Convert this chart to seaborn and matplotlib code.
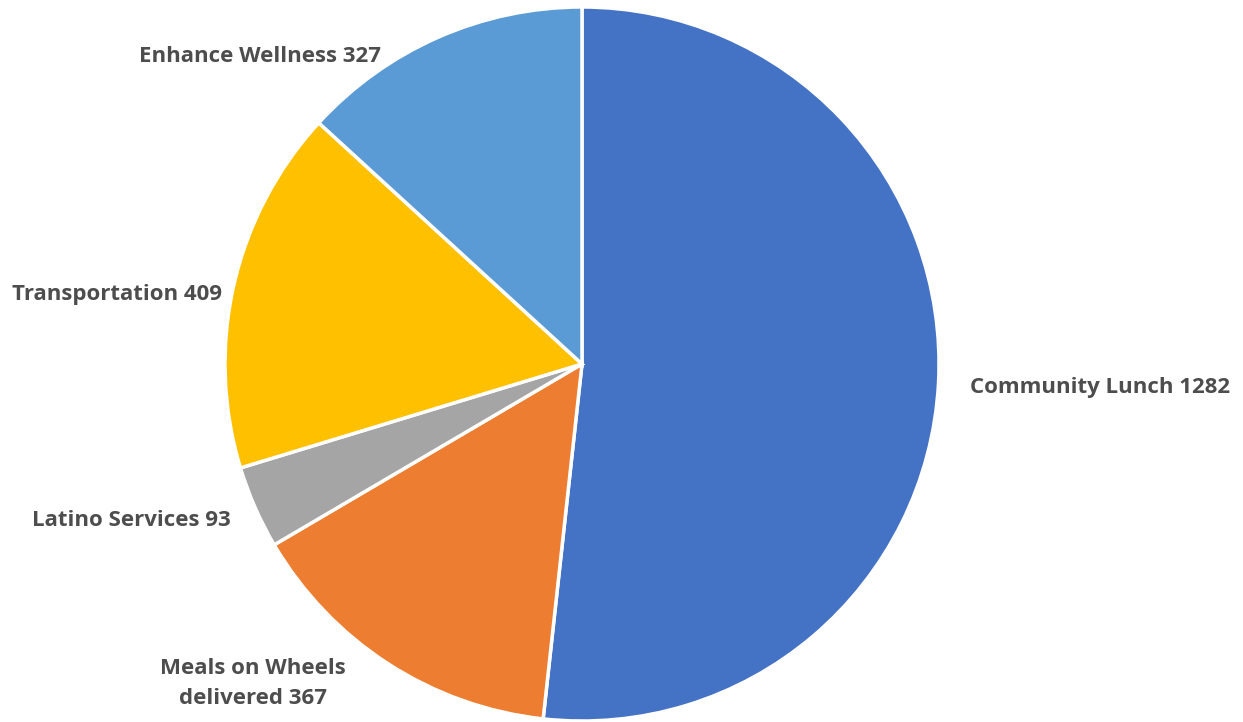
import numpy as np
import seaborn as sns
import matplotlib.pyplot as plt

# data
programs = ['Community Lunch', 'Meals on Wheels\ndelivered', 'Latino Services', 'Transportation', 'Enhance Wellness']
counts = [1282, 367, 93, 409, 327]
colors = sns.color_palette(['#4472C4', '#ED7D31', '#A5A5A5', '#FFC000', '#5B9BD5'])

sns.set_style('white')
plt.rcParams['font.family'] = ['Open Sans', 'DejaVu Sans']

fig = plt.figure(figsize=(12.43, 7.22), dpi=100)
W, H = 1243, 722
cx, cy, r = 582, 364, 357
ax = fig.add_axes([(cx - r) / W, (H - cy - r) / H, 2 * r / W, 2 * r / H])

labels = [f'{p} {c}' for p, c in zip(programs, counts)]
wedges, texts = ax.pie(counts, labels=labels, colors=colors, startangle=90, counterclock=False,
                       radius=1, wedgeprops=dict(edgecolor='white', linewidth=2.5),
                       textprops=dict(fontsize=16, fontweight='bold', color='#4d4d4d'))

# label placement (like Excel's outside-end labels)
label_pos = [(1.087, -0.067, 'left'), (-0.922, -0.896, 'center'), (-0.983, -0.437, 'right'),
             (-1.008, 0.196, 'right'), (-0.563, 0.860, 'right')]
for t, (x, y, ha) in zip(texts, label_pos):
    t.set_position((x, y))
    t.set_ha(ha)
    t.set_va('center')
    t.set_multialignment('center')
    t.set_linespacing(1.55)

ax.set_xlim(-1, 1)
ax.set_ylim(-1, 1)
ax.axis('off')

fig.savefig('out.png', dpi=100)
